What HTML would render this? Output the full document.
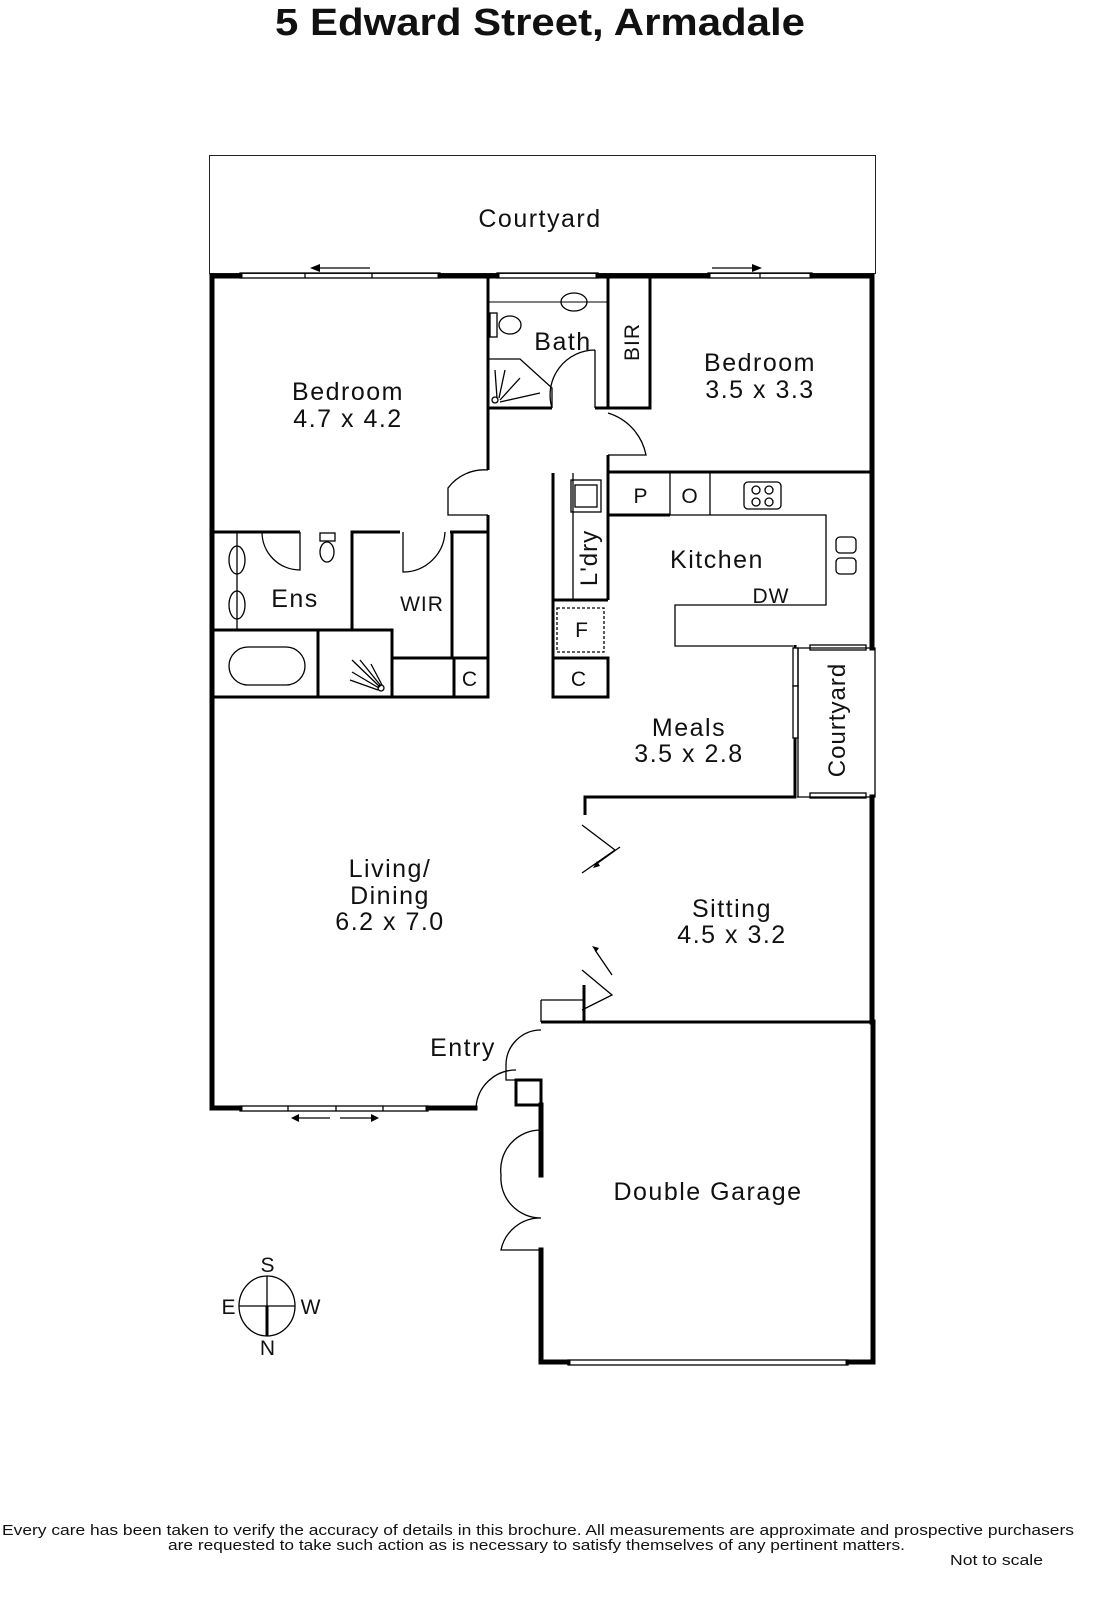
<!DOCTYPE html>
<html><head><meta charset="utf-8"><style>
html,body{margin:0;padding:0;background:#fff}
svg{display:block}
text{font-family:"Liberation Sans",sans-serif;fill:#111}
</style></head><body>
<svg width="1097" height="1600" viewBox="0 0 1097 1600" xmlns="http://www.w3.org/2000/svg">
<text x="275" y="35" font-size="38" font-weight="bold" textLength="530" lengthAdjust="spacingAndGlyphs">5 Edward Street, Armadale</text>

<!-- courtyard top -->
<rect x="209.5" y="155.5" width="666" height="118" fill="none" stroke="#222" stroke-width="1"/>
<text x="540" y="227" text-anchor="middle" font-size="25" letter-spacing="1.5">Courtyard</text>

<g stroke="#000" stroke-width="5" fill="none" stroke-linecap="square">
<path d="M212 276 H240 M440 276 H497 M598 276 H708 M812 276 H872"/>
<path d="M212 276 V1108 H240 M428 1108 H475"/>
<path d="M872 276 V648 M872 797 V1022 M873 1022 V1362 H848 M568 1362 H541 V1250 M541 1175 V1105"/>
<path d="M541 1105 V1080 H516 M541 1105 H516 V1080" stroke-width="3"/>
</g>
<g stroke="#000" stroke-width="3" fill="none">
<path d="M488 276 V470 M488 515 V532 H450 M400 532 H352 V630 H392 V697 M300 532 H262 M212 532 H262"/>
<path d="M212 697 H488 V532"/>
<path d="M452 532 V658 M392 658 H488 M454 658 V697"/>
<path d="M212 630 H352 M318 630 V697"/>
<path d="M488 408 H552 M595 408 H608 V276 M650 276 V408 H608 M650 472 H608 V455"/>
<path d="M488 302 H608" stroke-width="1"/>
<path d="M608 472 H872 M553 473 V697 H608 V658 H553 M608 473 V600"/>
<path d="M608 515 H670 M553 600 H608"/>
<path d="M795 645 V797 H585 V815 M584 985 V1022 H872 M541 1022 H584"/>
</g>
<g stroke="#000" stroke-width="1.3" fill="none">
<rect x="240" y="273" width="200" height="5"/><line x1="305" y1="273" x2="305" y2="278"/><line x1="372" y1="273" x2="372" y2="278"/>
<rect x="497" y="273" width="101" height="5"/>
<rect x="708" y="273" width="104" height="5"/><line x1="760" y1="273" x2="760" y2="278"/>
<rect x="240" y="1106" width="188" height="5"/><line x1="288" y1="1106" x2="288" y2="1111"/><line x1="336" y1="1106" x2="336" y2="1111"/><line x1="383" y1="1106" x2="383" y2="1111"/>
<rect x="568" y="1360" width="280" height="5"/>
<rect x="810" y="793" width="56" height="5" fill="#fff"/><rect x="810" y="645" width="56" height="5" fill="#fff"/>
<rect x="793" y="648" width="5" height="38" fill="#fff"/><rect x="793" y="686" width="5" height="52" fill="#fff"/>
<path d="M798 648 V797 M797 797 H875 V648 H797"/>
<path d="M315 268 H370 M712 268 H752"/>
<path d="M295 1118 H330 M340 1118 H375"/>
<path d="M488 470 A45 45 0 0 0 448 488 V515 H488"/>
<path d="M608 413 A55 55 0 0 1 646 455 H608"/>
<path d="M595 350 V408 M595 350 A45 45 0 0 0 552 408"/>
<path d="M262 532 A38 38 0 0 0 300 570 V532"/>
<path d="M445 532 A42 42 0 0 1 403 572 V532"/>
<path d="M541 1030 A35 35 0 0 0 506 1065 V1080 H516 M516 1070 A40 40 0 0 0 476 1108"/>
<path d="M541 1130 A40 40 0 0 0 501 1175 A40 40 0 0 0 541 1218 A40 40 0 0 0 501 1250 H541"/>
<path d="M541 1000 H584 M541 1000 V1022"/>
<path d="M582 825 L615 850 L582 873 M582 970 L612 995 L582 1010"/>
<path d="M595 865 L620 847 M595 950 L612 975"/>
<ellipse cx="574" cy="302" rx="13" ry="9"/>
<ellipse cx="510" cy="325" rx="11" ry="9"/><rect x="490" y="313" width="7" height="24"/>
<path d="M488 359 H520 L552 388 V408"/>
<circle cx="495" cy="400" r="3"/>
<path d="M495 370 L497 398 M505 370 L499 398 M520 378 L500 400 M540 393 L500 402"/>
<ellipse cx="237" cy="560" rx="8" ry="14"/><ellipse cx="237" cy="605" rx="8" ry="14"/>
<line x1="237" y1="533" x2="237" y2="630"/>
<ellipse cx="327" cy="552" rx="7" ry="10"/><rect x="320" y="533" width="15" height="8"/>
<rect x="229" y="647" width="76" height="38" rx="19"/>
<circle cx="381" cy="688" r="3"/>
<path d="M352 660 L380 687 M360 660 L381 686 M371 664 L382 685 M352 672 L379 688 M350 680 L378 690"/>
<path d="M573 473 V600 M670 473 V515 M710 473 V515"/>
<rect x="571" y="480" width="30" height="32"/><rect x="575" y="485" width="22" height="22"/>
<rect x="744" y="482" width="37" height="27" rx="4"/>
<circle cx="756" cy="490" r="4"/><circle cx="769" cy="490" r="4"/><circle cx="756" cy="502" r="4"/><circle cx="769" cy="502" r="4"/>
<path d="M670 515 H826 V605 H675 V646 H793"/>
<rect x="836" y="537" width="20" height="16" rx="4"/><rect x="836" y="558" width="20" height="16" rx="4"/>
<rect x="557" y="608" width="47" height="44" stroke-dasharray="3 2"/>
<ellipse cx="267" cy="1306" rx="28" ry="30"/>
<path d="M239 1306 H295 M267 1276 V1306"/>
</g>
<path d="M267 1306 V1336" stroke="#000" stroke-width="3"/>
<g fill="#000">
<path d="M310 268 l10 -4 v8z M762 268 l-10 -4 v8z M291 1118 l8 -4 v8z M379 1118 l-8 -4 v8z M593 868 l4 -7 3 5z M592 946 l7 2 -3 4z"/>
</g>

<g font-size="25" text-anchor="middle" letter-spacing="1.5">
<text x="348" y="400">Bedroom</text><text x="348" y="427">4.7 x 4.2</text>
<text x="563" y="350">Bath</text>
<text x="760" y="371">Bedroom</text><text x="760" y="398">3.5 x 3.3</text>
<text x="717" y="568">Kitchen</text>
<text x="295" y="607">Ens</text>
<text x="689" y="736">Meals</text><text x="689" y="762">3.5 x 2.8</text>
<text x="390" y="877">Living/</text><text x="390" y="904">Dining</text><text x="390" y="930">6.2 x 7.0</text>
<text x="732" y="917">Sitting</text><text x="732" y="943">4.5 x 3.2</text>
<text x="463" y="1056">Entry</text>
<text x="708" y="1200">Double Garage</text>
</g>
<g font-size="21" text-anchor="middle" letter-spacing="1">
<text x="422" y="611">WIR</text>
<text x="771" y="603">DW</text>
<text x="641" y="503">P</text>
<text x="690" y="503">O</text>
<text x="582" y="637">F</text>
<text x="579" y="686">C</text>
<text x="470" y="686">C</text>
<text transform="translate(639 342) rotate(-90)">BIR</text>
<text transform="translate(597 558) rotate(-90)" font-size="24">L'dry</text>
<text transform="translate(845 720) rotate(-90)" font-size="24">Courtyard</text>
<text x="268" y="1272">S</text><text x="268" y="1355">N</text><text x="229" y="1314">E</text><text x="311" y="1314">W</text>
</g>
<g font-size="15">
<text x="2" y="1535" textLength="1072" lengthAdjust="spacingAndGlyphs">Every care has been taken to verify the accuracy of details in this brochure.  All measurements are approximate and prospective purchasers</text>
<text x="168" y="1550" textLength="737" lengthAdjust="spacingAndGlyphs">are requested to take such action as is necessary to satisfy themselves of any pertinent matters.</text>
<text x="950" y="1565" textLength="93" lengthAdjust="spacingAndGlyphs">Not to scale</text>
</g>
</svg>
</body></html>
